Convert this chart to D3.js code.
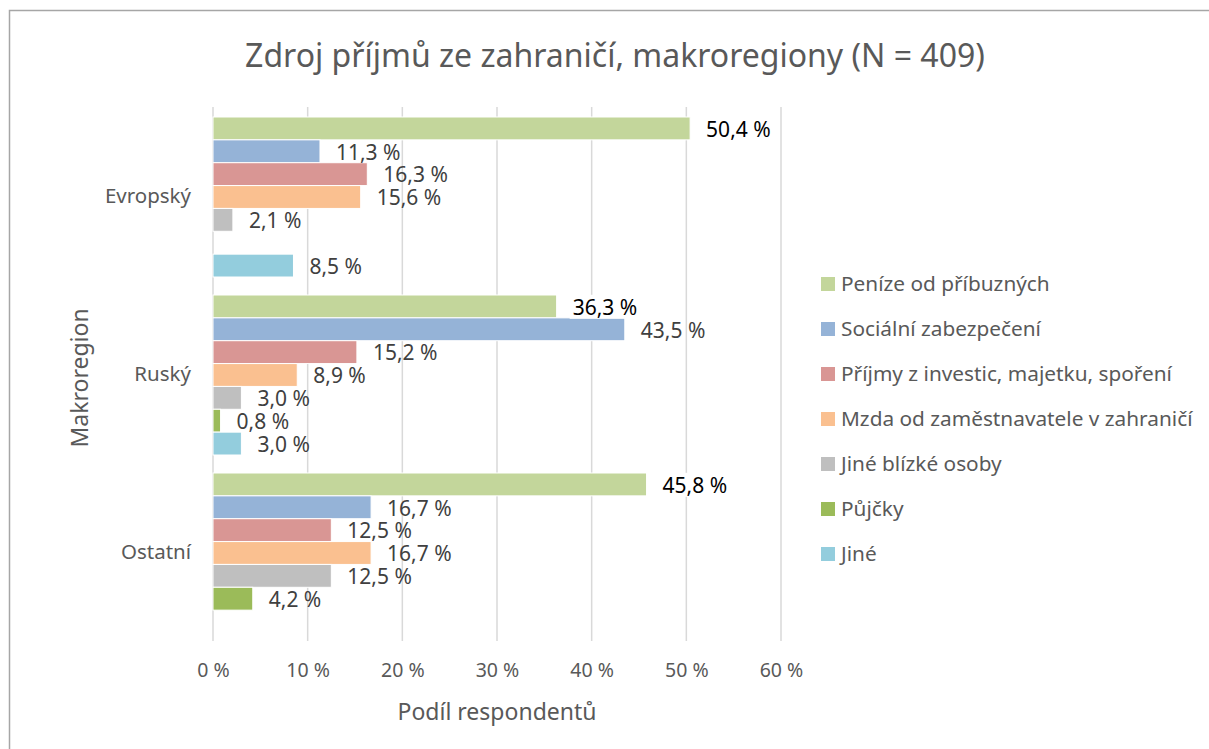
<!DOCTYPE html>
<html>
<head>
<meta charset="utf-8">
<script src="https://cdn.jsdelivr.net/npm/d3@7"></script>
<style>
  html, body { margin: 0; padding: 0; background: #fff; }
  svg { display: block; font-family: "Noto Sans", "Open Sans", sans-serif; }
</style>
</head>
<body>
<svg id="chart" width="1209" height="749"></svg>
<script>
const categories = ["Evropský", "Ruský", "Ostatní"];
const seriesNames = [
  "Peníze od příbuzných",
  "Sociální zabezpečení",
  "Příjmy z investic, majetku, spoření",
  "Mzda od zaměstnavatele v zahraničí",
  "Jiné blízké osoby",
  "Půjčky",
  "Jiné"
];
const seriesColors = ["#C3D69B", "#95B3D7", "#D99694", "#FAC090", "#BFBFBF", "#9BBB59", "#93CDDD"];
// values per series, in category order (Evropský, Ruský, Ostatní); null = no bar
const penize     = [50.4, 36.3, 45.8];
const socialni   = [11.3, 43.5, 16.7];
const investice  = [16.3, 15.2, 12.5];
const mzda       = [15.6, 8.9, 16.7];
const jineOsoby  = [2.1, 3.0, 12.5];
const pujcky     = [null, 0.8, 4.2];
const jine       = [8.5, 3.0, null];
const seriesValues = [penize, socialni, investice, mzda, jineOsoby, pujcky, jine];
const xTicks = [0, 10, 20, 30, 40, 50, 60];
const titleText = "Zdroj příjmů ze zahraničí, makroregiony (N = 409)";
const xTitle = "Podíl respondentů";
const yTitle = "Makroregion";

const svg = d3.select("#chart");
const W = 1209, H = 749;
svg.append("rect").attr("x", 9.5).attr("y", 10.5).attr("width", W).attr("height", H)
  .attr("fill", "#fff").attr("stroke", "#A6A6A6").attr("stroke-width", 1.5);

const plot = { left: 213, right: 781, top: 107, bottom: 641 };
const x = d3.scaleLinear().domain([0, 60]).range([plot.left, plot.right]);
const y0 = d3.scaleBand().domain(categories).range([plot.top, plot.bottom]).padding(0);
const y1 = d3.scaleBand().domain(seriesNames).range([10, y0.bandwidth() - 8]).padding(0);

// gridlines
svg.append("g").selectAll("line").data(xTicks).join("line")
  .attr("x1", d => x(d)).attr("x2", d => x(d))
  .attr("y1", plot.top).attr("y2", plot.bottom)
  .attr("stroke", "#D9D9D9").attr("stroke-width", 1.5);

// x tick labels
const xAxis = d3.axisBottom(x).tickValues(xTicks).tickSize(0).tickPadding(22)
  .tickFormat(d => d + " %");
const gx = svg.append("g").attr("transform", `translate(0,${plot.bottom})`).call(xAxis);
gx.select(".domain").remove();
gx.selectAll("text").attr("font-size", 19.5).attr("fill", "#595959")
  .attr("font-family", "Noto Sans, sans-serif");

// y category labels
const yAxis = d3.axisLeft(y0).tickSize(0).tickPadding(22);
const gy = svg.append("g").attr("transform", `translate(${plot.left},0)`).call(yAxis);
gy.select(".domain").remove();
gy.selectAll("text").attr("font-size", 20.5).attr("fill", "#595959")
  .attr("font-family", "Noto Sans, sans-serif");

// bars
const flat = [];
categories.forEach((c, ci) => {
  seriesNames.forEach((s, si) => {
    flat.push({ cat: c, series: s, si: si, value: seriesValues[si][ci] });
  });
});
const present = flat.filter(d => d.value !== null);

svg.append("g").selectAll("rect").data(present).join("rect")
  .attr("x", x(0))
  .attr("y", d => y0(d.cat) + y1(d.series))
  .attr("width", d => x(d.value) - x(0))
  .attr("height", y1.bandwidth())
  .attr("fill", d => seriesColors[d.si])
  .attr("stroke", "#fff").attr("stroke-width", 1);

// labels
const fmt = v => v.toFixed(1).replace(".", ",") + " %";
const lg = svg.append("g");
present.forEach(d => {
  const tx = x(d.value) + 16;
  const ty = y0(d.cat) + y1(d.series) + y1.bandwidth() / 2 + 1;
  const t = lg.append("text").attr("x", tx).attr("y", ty)
    .attr("dy", "0.35em").attr("font-size", 21)
    .attr("fill", d.si === 0 ? "#000" : "#404040")
    .text(fmt(d.value));
  if (d.si === 0) {
    const bb = t.node().getBBox();
    lg.insert("rect", "text").attr("x", bb.x - 3).attr("y", bb.y + 2).attr("width", bb.width + 6)
      .attr("height", bb.height - 4).attr("fill", "#fff");
  }
});
lg.selectAll("text").raise();

// title
svg.append("text").attr("x", 615).attr("y", 67).attr("text-anchor", "middle")
  .attr("font-size", 32).attr("fill", "#595959").text(titleText);

// axis titles
svg.append("text").attr("x", (plot.left + plot.right) / 2).attr("y", 720)
  .attr("text-anchor", "middle").attr("font-size", 23).attr("fill", "#595959").text(xTitle);
svg.append("text").attr("transform", `translate(88,${(plot.top + plot.bottom) / 2 + 4}) rotate(-90)`)
  .attr("text-anchor", "middle").attr("font-size", 23).attr("fill", "#595959").text(yTitle);

// legend
const legend = svg.append("g");
const legY = d3.scalePoint().domain(seriesNames).range([284, 554]);
seriesNames.forEach((s, i) => {
  legend.append("rect").attr("x", 821).attr("y", legY(s) - 7).attr("width", 14).attr("height", 14)
    .attr("fill", seriesColors[i]);
  legend.append("text").attr("x", 841).attr("y", legY(s)).attr("dy", "0.35em")
    .attr("font-size", 20.8).attr("fill", "#595959").text(s);
});
</script>
</body>
</html>
